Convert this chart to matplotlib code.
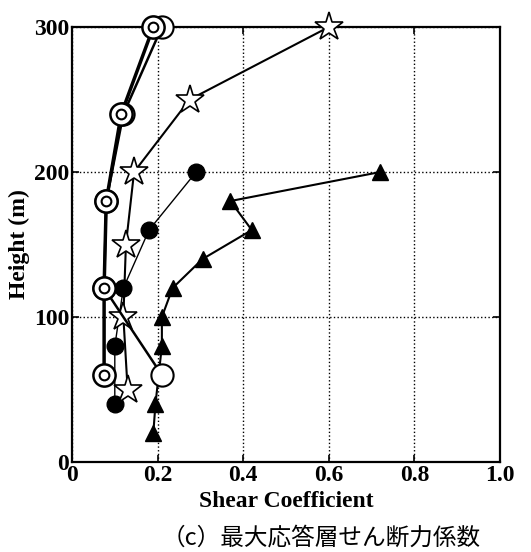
import matplotlib
matplotlib.use("Agg")
import matplotlib.pyplot as plt

# double-circle series (thick line)
dc_x = [0.075, 0.075, 0.08, 0.115, 0.19]
dc_h = [60, 120, 180, 240, 300]
# plain open-circle series
oc_x = [0.21, 0.075, 0.08, 0.12, 0.21]
oc_h = [60, 120, 180, 240, 300]
# stars
st_x = [0.13, 0.12, 0.126, 0.145, 0.275, 0.60]
st_h = [50, 100, 150, 200, 250, 300]
# filled circles
fc_x = [0.10, 0.10, 0.12, 0.18, 0.29]
fc_h = [40, 80, 120, 160, 200]
# filled triangles
tr_x = [0.19, 0.195, 0.21, 0.21, 0.235, 0.305, 0.42, 0.37, 0.72]
tr_h = [20, 40, 80, 100, 120, 140, 160, 180, 200]

xticks = [0, 0.2, 0.4, 0.6, 0.8, 1.0]
xlabels = ["0", "0.2", "0.4", "0.6", "0.8", "1.0"]
yticks = [0, 100, 200, 300]

serif = "Liberation Serif"

fig = plt.figure(figsize=(5.31, 5.52), dpi=100)
ax = fig.add_axes([0.1356, 0.163, 0.806, 0.788])

ax.plot(tr_x, tr_h, color="black", lw=1.5, marker="^", ms=11, mfc="black", mec="black", zorder=3, clip_on=False)
ax.plot(fc_x, fc_h, color="black", lw=1.0, marker="o", ms=12, mfc="black", mec="black", zorder=3, clip_on=False)
ax.plot(st_x, st_h, color="black", lw=1.5, marker="*", ms=21, mfc="white", mec="black", mew=1.2, zorder=4, clip_on=False)
ax.plot(oc_x, oc_h, color="black", lw=1.8, marker="o", ms=16, mfc="white", mec="black", mew=1.5, zorder=5, clip_on=False)
ax.plot(dc_x, dc_h, color="black", lw=2.5, marker="o", ms=16, mfc="white", mec="black", mew=1.8, zorder=6, clip_on=False)
ax.plot(dc_x, dc_h, ls="none", marker="o", ms=7, mfc="white", mec="black", mew=1.5, zorder=7, clip_on=False)

ax.set_xlim(0, 1.0)
ax.set_ylim(0, 300)
ax.set_xticks(xticks)
ax.set_xticklabels(xlabels)
ax.set_yticks(yticks)
ax.grid(True, ls=":", color="black", lw=1.0)
ax.tick_params(direction="in", top=True, right=True, length=5, width=1.2, labelsize=17, pad=2)
for lab in ax.get_xticklabels() + ax.get_yticklabels():
    lab.set_fontfamily(serif)
    lab.set_fontweight("bold")
for sp in ax.spines.values():
    sp.set_linewidth(1.6)

ax.set_xlabel("Shear Coefficient", fontfamily=serif, fontweight="bold", fontsize=17, labelpad=4)
ax.set_ylabel("Height (m)", fontfamily=serif, fontweight="bold", fontsize=17, labelpad=3)

fig.text(0.605, 0.025, "（c）最大応答層せん断力係数", ha="center", va="center",
         fontsize=17, family=["Noto Sans CJK JP", "DejaVu Sans"])

fig.savefig("out.png", dpi=100)
